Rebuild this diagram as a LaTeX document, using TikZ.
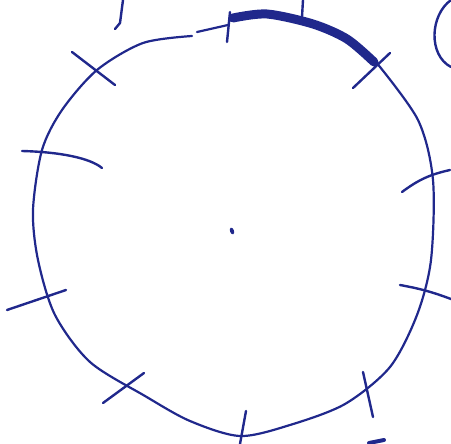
\documentclass[tikz,border=0pt]{standalone}
\usetikzlibrary{shapes.geometric}
\definecolor{ink}{RGB}{32,40,140}
\begin{document}
\begin{tikzpicture}[
  x=1pt, y=-1pt,
  pen/.style={draw=ink, line width=2.2pt, line cap=round, line join=round},
  heavy/.style={draw=ink, line width=9pt, line cap=round},
  tick/.style={draw=ink, line width=2.4pt, line cap=round},
  dot/.style={ellipse, fill=ink, minimum width=4pt, minimum height=7pt, inner sep=0pt, rotate=20}
]
  \useasboundingbox (0,0) rectangle (451,444);
  % Outline of the dial
  \draw[pen] plot[smooth] coordinates {
    (192,36) (143,43) (97,70) (62,110) (42,150) (33,210) (38,260)
    (55,315) (90,362) (145,396) (190,421) (240,436) (290,425) (345,404)
    (390,367) (417,315) (431,260) (433,180) (418,120) (376,62)};
  \draw[pen] (197,32) -- (228,25);
  % Marked arc
  \draw[heavy] plot[smooth] coordinates {(233,18) (267,14) (313,24) (347,39) (374,62)};
  % Hour marks
  \foreach \xa/\ya/\xb/\yb in {
      72/52/115/85, 230/12/227/42, 353/88/390/53, 363/372/373/417,
      246/411/240/444, 103/403/144/373, 7/310/66/290} {
    \draw[tick] (\xa,\ya) -- (\xb,\yb);
  }
  \draw[tick] (402,192) to[bend left=12] (450,170);
  \draw[tick] (400,285) to[bend left=5] (451,299);
  \draw[tick] (22,151) .. controls (60,152) and (90,158) .. (102,168);
  % Loose strokes
  \draw[tick] (123,0) -- (120,23) -- (115,29);
  \draw[tick] (303,0) -- (302,17);
  \draw[tick] (451,0) .. controls (430,15) and (428,55) .. (451,67);
  \draw[heavy, line width=4pt] (369,443) -- (384,440);
  % Centre
  \node[dot] (centre) at (232,231) {};
\end{tikzpicture}
\end{document}
